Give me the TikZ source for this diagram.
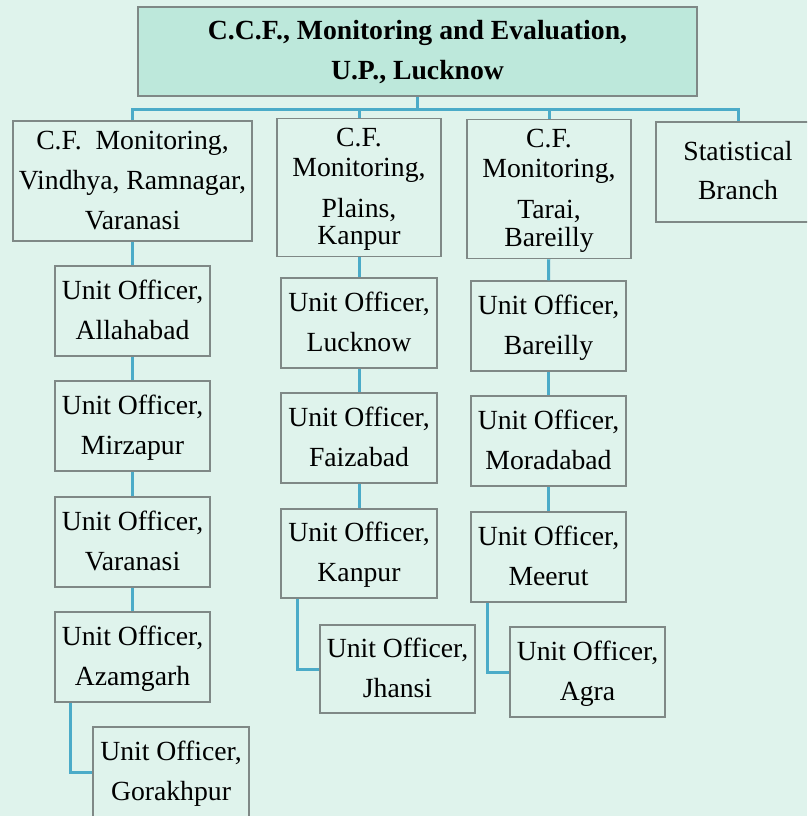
\documentclass[tikz,border=0pt]{standalone}
\usepackage{fontspec}
\setmainfont{Liberation Serif}
\definecolor{bgc}{HTML}{DFF3EC}
\definecolor{topfill}{HTML}{BDE8DB}
\definecolor{boxfill}{HTML}{DFF3EC}
\definecolor{bordc}{HTML}{7F8886}
\definecolor{linkc}{HTML}{4BABC8}
\newcommand{\ls}{\rule{0pt}{28pt}\rule[-12pt]{0pt}{12pt}}
\tikzset{
  orgbox/.style={draw=bordc, line width=1.5pt, fill=boxfill, inner sep=0pt,
    minimum height=90pt, minimum width=155pt, align=center,
    font=\fontsize{27.7}{40}\selectfont},
  topbox/.style={orgbox, fill=topfill, font=\fontsize{27.7}{40}\selectfont\bfseries},
  link/.style={draw=linkc, line width=3pt, line join=miter}
}
\begin{document}
\begin{tikzpicture}[x=1pt,y=-1pt]
\useasboundingbox (0,0) rectangle (807,816);
\fill[bgc] (0,0) rectangle (807,816);
\clip (0,0) rectangle (807,816);
% level 0
\node[topbox, minimum width=559pt, minimum height=89pt] (top) at (417.5,51.5)
  {\ls C.C.F., Monitoring and Evaluation,\\\ls U.P., Lucknow};
% level 1
\node[orgbox, minimum width=239pt, minimum height=118pt] (vin) at (132.5,181)
  {\ls C.F.\ \ Monitoring,\\\ls Vindhya, Ramnagar,\\\ls Varanasi};
\node[orgbox, minimum width=164pt, minimum height=131pt] (pla) at (359,187.5)
  {\ls C.F.\\[-10pt]\ls Monitoring,\\[1pt]\ls Plains,\\[-13pt]\ls Kanpur};
\node[orgbox, minimum width=164pt, minimum height=134pt] (tar) at (549,189)
  {\ls C.F.\\[-10pt]\ls Monitoring,\\[1pt]\ls Tarai,\\[-12pt]\ls Bareilly};
\node[orgbox, minimum width=164pt, minimum height=100pt] (sta) at (738,172)
  {\ls Statistical\\[-1pt]\ls Branch};
% left column
\node[orgbox] (ua) at (132.5,311) {\ls Unit Officer,\\\ls Allahabad};
\node[orgbox] (um) at (132.5,426) {\ls Unit Officer,\\\ls Mirzapur};
\node[orgbox] (uv) at (132.5,542) {\ls Unit Officer,\\\ls Varanasi};
\node[orgbox] (uz) at (132.5,657) {\ls Unit Officer,\\\ls Azamgarh};
\node[orgbox, minimum width=156pt] (ug) at (171,772) {\ls Unit Officer,\\\ls Gorakhpur};
% middle column
\node[orgbox, minimum width=156pt] (ul) at (359,323) {\ls Unit Officer,\\\ls Lucknow};
\node[orgbox, minimum width=156pt] (uf) at (359,438) {\ls Unit Officer,\\\ls Faizabad};
\node[orgbox, minimum width=156pt, minimum height=89pt] (uk) at (359,553.5) {\ls Unit Officer,\\\ls Kanpur};
\node[orgbox, minimum height=88pt] (uj) at (397.5,669) {\ls Unit Officer,\\\ls Jhansi};
% right column
\node[orgbox] (ub) at (548.5,326) {\ls Unit Officer,\\\ls Bareilly};
\node[orgbox] (ud) at (548.5,441) {\ls Unit Officer,\\\ls Moradabad};
\node[orgbox] (ue) at (548.5,557) {\ls Unit Officer,\\\ls Meerut};
\node[orgbox] (ur) at (587.5,672) {\ls Unit Officer,\\\ls Agra};
% connectors
\coordinate (bus) at (0,109);
\draw[link] (top.south) -- (top.south |- bus);
\draw[link] (vin.north) -- (vin.north |- bus) -- (sta.north |- bus) -- (sta.north);
\draw[link] (pla.north) -- (pla.north |- bus);
\draw[link] (tar.north) -- (tar.north |- bus);
\draw[link] (vin) -- (ua);
\draw[link] (ua) -- (um);
\draw[link] (um) -- (uv);
\draw[link] (uv) -- (uz);
\coordinate (gx) at (70,0);
\draw[link] (gx |- uz.south) |- (ug.west);
\draw[link] (pla) -- (ul);
\draw[link] (ul) -- (uf);
\draw[link] (uf) -- (uk);
\coordinate (jx) at (297,0);
\draw[link] (jx |- uk.south) |- (uj.west);
\draw[link] (tar) -- (ub);
\draw[link] (ub) -- (ud);
\draw[link] (ud) -- (ue);
\coordinate (ax) at (487,0);
\draw[link] (ax |- ue.south) |- (ur.west);
\end{tikzpicture}
\end{document}
